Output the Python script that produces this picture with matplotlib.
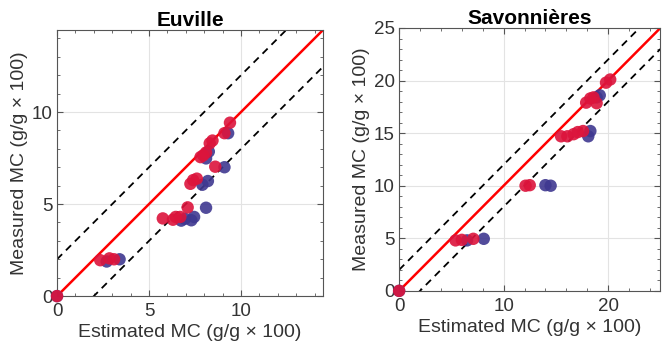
import matplotlib
matplotlib.use("Agg")
import matplotlib.pyplot as plt
import numpy as np
from matplotlib.ticker import MultipleLocator

plt.rcParams['font.family'] = ['Liberation Sans', 'DejaVu Sans']

# ---- Euville data ----
euv_blue_x = [0.0, 2.7, 3.4, 6.75, 6.95, 7.3, 7.45, 8.1, 7.9, 8.2, 8.1, 8.25, 9.1, 9.3]
euv_blue_y = [0.0, 1.88, 2.0, 4.1, 4.2, 4.12, 4.3, 4.8, 6.05, 6.25, 7.48, 7.85, 7.0, 8.85]
euv_red_x = [0.0, 2.35, 2.85, 3.1, 5.75, 6.3, 6.45, 6.7, 7.1, 7.25, 7.4, 7.6, 7.8, 7.95, 8.1, 8.3, 8.45, 8.6, 9.1, 9.4]
euv_red_y = [0.0, 1.95, 2.05, 2.0, 4.22, 4.15, 4.3, 4.3, 4.82, 6.1, 6.3, 6.38, 7.55, 7.65, 7.8, 8.3, 8.45, 7.03, 8.85, 9.42]

# ---- Savonnieres data ----
sav_blue_x = [0.0, 6.5, 8.1, 14.0, 14.5, 18.1, 18.3, 18.9, 19.2]
sav_blue_y = [0.0, 4.8, 4.95, 10.05, 10.0, 14.7, 15.2, 18.4, 18.6]
sav_red_x = [0.0, 5.4, 6.0, 7.1, 12.1, 12.5, 15.5, 16.1, 16.7, 17.1, 17.6, 17.9, 18.3, 18.6, 18.9, 19.8, 20.2]
sav_red_y = [0.0, 4.8, 4.85, 4.95, 10.0, 10.05, 14.7, 14.7, 14.9, 15.1, 15.2, 17.9, 18.3, 18.4, 17.85, 19.8, 20.1]

titles = ["Euville", "Savonnières"]
xlabel = "Estimated MC (g/g × 100)"
ylabel = "Measured MC (g/g × 100)"

red_c = "#DC143C"
blue_c = "#3F3890"
txt_c = "#333333"

fig = plt.figure(figsize=(6.63, 3.5), dpi=100)
ax1 = fig.add_axes([0.086, 0.154, 0.401, 0.76])
ax2 = fig.add_axes([0.602, 0.169, 0.394, 0.751])

def style(ax, lim, major, minor, title, bx, by, rx, ry):
    ax.grid(True, color="#e3e3e3", linewidth=0.8, zorder=0)
    ax.set_axisbelow(True)
    t = np.array([0, lim])
    ax.plot(t, t, color="red", linewidth=1.8, zorder=2)
    ax.plot(t, t + 2, color="black", linestyle=(0, (4, 3)), linewidth=1.3, zorder=2)
    ax.plot(t, t - 2, color="black", linestyle=(0, (4, 3)), linewidth=1.3, zorder=2)
    ax.scatter(bx, by, s=80, color=blue_c, alpha=0.9, edgecolors='none', zorder=3, clip_on=False)
    ax.scatter(rx, ry, s=80, color=red_c, alpha=0.9, edgecolors='none', zorder=4, clip_on=False)
    ax.set_xlim(0, lim)
    ax.set_ylim(0, lim)
    ax.xaxis.set_major_locator(MultipleLocator(major))
    ax.yaxis.set_major_locator(MultipleLocator(major))
    ax.xaxis.set_minor_locator(MultipleLocator(minor))
    ax.yaxis.set_minor_locator(MultipleLocator(minor))
    ax.tick_params(which='both', direction='in', top=True, right=True, colors="#555555",
                   labelcolor=txt_c, labelsize=13.5)
    ax.tick_params(which='major', length=4)
    ax.tick_params(which='minor', length=2)
    ax.tick_params(axis='x', pad=5)
    ax.tick_params(axis='y', pad=3)
    for s in ax.spines.values():
        s.set_color("#555555")
        s.set_linewidth(0.8)
    ax.set_xlabel(xlabel, fontsize=14, color=txt_c, labelpad=3)
    ax.set_ylabel(ylabel, fontsize=14, color=txt_c, labelpad=3)
    ax.set_title(title, fontsize=15, fontweight='bold', pad=3)

style(ax1, 14.45, 5, 1, titles[0], euv_blue_x, euv_blue_y, euv_red_x, euv_red_y)
style(ax2, 25, 10, 2, titles[1], sav_blue_x, sav_blue_y, sav_red_x, sav_red_y)
ax2.yaxis.set_major_locator(MultipleLocator(5))
ax2.yaxis.set_minor_locator(MultipleLocator(1))

fig.savefig("out.png", dpi=100)
